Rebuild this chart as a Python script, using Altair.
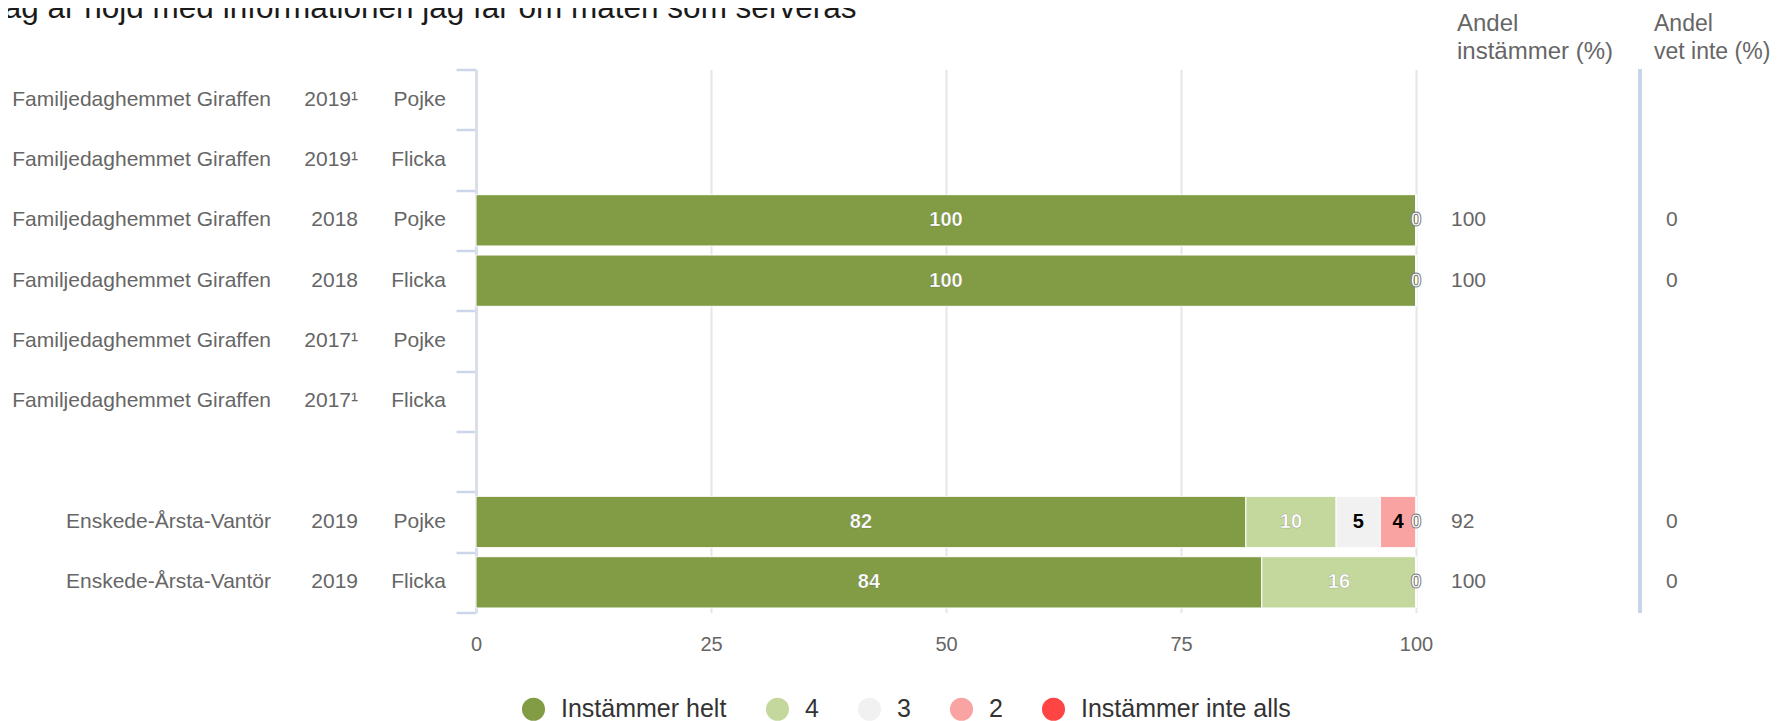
import altair as alt
import pandas as pd

FONT = "Liberation Sans"

# ---------------- data ----------------
title_text = "Jag är nöjd med informationen jag får om maten som serveras"
names = ["Familjedaghemmet Giraffen"] * 6 + ["", "Enskede-Årsta-Vantör", "Enskede-Årsta-Vantör"]
years = ["2019¹", "2019¹", "2018", "2018", "2017¹", "2017¹", "", "2019", "2019"]
genders = ["Pojke", "Flicka", "Pojke", "Flicka", "Pojke", "Flicka", "", "Pojke", "Flicka"]

series_names = ["Instämmer helt", "4", "3", "2", "Instämmer inte alls"]
series_colors = ["#819c44", "#c4d89e", "#f1f1f1", "#f9a3a3", "#ff4444"]
label_colors = ["#ffffff", "#ffffff", "#000000", "#000000", "#ffffff"]

# shares (%) per row; labels show them rounded
helt = [None, None, 100, 100, None, None, None, 81.9, 83.6]
v4 = [None, None, 0, 0, None, None, None, 9.6, 16.4]
v3 = [None, None, 0, 0, None, None, None, 4.7, 0]
v2 = [None, None, 0, 0, None, None, None, 3.8, 0]
inte_alls = [None, None, 0, 0, None, None, None, 0, 0]

andel_instammer = [None, None, 100, 100, None, None, None, 92, 100]
andel_vet_inte = [None, None, 0, 0, None, None, None, 0, 0]

x_ticks = [0, 25, 50, 75, 100]
header_1 = "Andel\ninstämmer (%)"
header_2 = "Andel\nvet inte (%)"

# ---------------- tables ----------------
row_ids = [f"r{i}" for i in range(len(names))]
series_vals = [helt, v4, v3, v2, inte_alls]

seg_records = []
for i, rid in enumerate(row_ids):
    for k, s in enumerate(series_names):
        v = series_vals[k][i]
        if v is not None:
            seg_records.append({
                "row": rid, "series": s, "value": v, "order": k,
                "lcol": label_colors[k],
                "lstroke": "#000000" if label_colors[k] == "#ffffff" else "transparent",
            })
seg_df = pd.DataFrame(seg_records)

rows_df = pd.DataFrame({
    "row": row_ids,
    "name": names,
    "year": years,
    "gender": genders,
    "a1": ["" if v is None else str(v) for v in andel_instammer],
    "a2": ["" if v is None else str(v) for v in andel_vet_inte],
})

W, H = 940, 543

y_enc = alt.Y(
    "row:N",
    scale=alt.Scale(domain=row_ids, paddingInner=0, paddingOuter=0),
    axis=alt.Axis(labels=False, title=None, tickBand="extent", tickSize=20,
                  tickColor="#ccd6eb", tickWidth=2.5, domainColor="#d9dee8",
                  domainWidth=3, grid=False),
)
x_axis = alt.Axis(values=[t / 100 for t in x_ticks],
                  labelExpr="format(datum.value*100, 'd')",
                  title=None, domain=False, ticks=False, tickSize=0,
                  labelPadding=32, labelBaseline="middle", labelFlush=False,
                  labelFontSize=20, labelColor="#666666", labelFont=FONT,
                  grid=True, gridColor="#e6e6e6", gridWidth=2)
x_scale = alt.Scale(domain=[0, 1], nice=False, zero=True)

stack_kw = dict(stack="value", groupby=["row"], as_=["v0", "v1"], offset="normalize",
                sort=[alt.SortField("order", "ascending")])

bars = alt.Chart(seg_df).transform_stack(**stack_kw).mark_bar(
    stroke="white", strokeWidth=1, height={"band": 0.85}
).encode(
    x=alt.X("v0:Q", scale=x_scale, axis=x_axis),
    x2="v1:Q",
    y=y_enc,
    color=alt.Color(
        "series:N",
        scale=alt.Scale(domain=series_names, range=series_colors),
        legend=alt.Legend(title=None, orient="none", legendX=45, legendY=627,
                          direction="horizontal", columns=5, symbolType="circle",
                          symbolSize=529, symbolStrokeWidth=0, symbolOpacity=1,
                          labelFontSize=25, labelColor="#333333", labelFont=FONT,
                          labelOffset=15, columnPadding=38, padding=0, labelLimit=400),
    ),
)

value_labels = alt.Chart(seg_df).transform_stack(**stack_kw).transform_calculate(
    mid="(datum.v0 + datum.v1) / 2",
    lbl="format(datum.value, '.0f')",
).transform_filter("datum.value > 0").mark_text(
    font=FONT, fontSize=20, fontWeight="bold", strokeWidth=0.6, strokeOpacity=0.25
).encode(
    x=alt.X("mid:Q", scale=x_scale, axis=x_axis),
    y=y_enc,
    text="lbl:N",
    color=alt.Color("lcol:N", scale=None),
    stroke=alt.Stroke("lstroke:N", scale=None),
)

zero_labels = alt.Chart(seg_df).transform_stack(**stack_kw).transform_filter(
    "datum.value == 0"
).transform_window(rn="row_number()", groupby=["row"]).transform_filter(
    "datum.rn == 1"
).transform_calculate(mid="(datum.v0 + datum.v1) / 2").mark_text(
    font=FONT, fontSize=20, fontWeight="bold", color="white",
    stroke="#777777", strokeWidth=0.9
).encode(
    x=alt.X("mid:Q", scale=x_scale, axis=x_axis),
    y=y_enc,
    text="value:Q",
)

def col_text(field, xpos, align, color="#666666", size=21):
    return alt.Chart(rows_df).mark_text(
        align=align, baseline="middle", font=FONT, fontSize=size, color=color
    ).encode(x=alt.value(xpos), y=y_enc, text=f"{field}:N")

name_col = col_text("name", -205, "right")
year_col = col_text("year", -118, "right")
gender_col = col_text("gender", -30, "right")
a1_col = col_text("a1", 975, "left")
a2_col = col_text("a2", 1190, "left")

sep_rule = alt.Chart(rows_df).mark_rule(color="#c7d4ea", strokeWidth=3).encode(
    x=alt.value(1164), y=alt.value(0), y2=alt.value(H)
)

title_df = pd.DataFrame({"t": [title_text]})
title_mark = alt.Chart(title_df).mark_text(
    align="left", baseline="alphabetic", font=FONT, fontSize=31.5, color="#1a1a1a"
).encode(x=alt.value(-488), y=alt.value(-52), text="t:N")

hdr1 = alt.Chart(title_df).mark_text(
    align="left", baseline="alphabetic", font=FONT, fontSize=24, color="#666666",
    lineBreak="\n", lineHeight=28
).encode(x=alt.value(981), y=alt.value(-39), text=alt.value(header_1))
hdr2 = alt.Chart(title_df).mark_text(
    align="left", baseline="alphabetic", font=FONT, fontSize=23, color="#666666",
    lineBreak="\n", lineHeight=28
).encode(x=alt.value(1178), y=alt.value(-39), text=alt.value(header_2))

chart = alt.layer(
    bars, value_labels, zero_labels, name_col, year_col, gender_col,
    a1_col, a2_col, sep_rule, title_mark, hdr1, hdr2
).properties(
    width=W, height=H,
    autosize=alt.AutoSizeParams(type="none"),
    padding={"left": 468, "top": 61.5, "right": 355, "bottom": 110},
    background="white",
).configure_view(stroke=None).configure_text(font=FONT)

chart.save("out.html", embed_options={"renderer": "svg", "actions": False})
